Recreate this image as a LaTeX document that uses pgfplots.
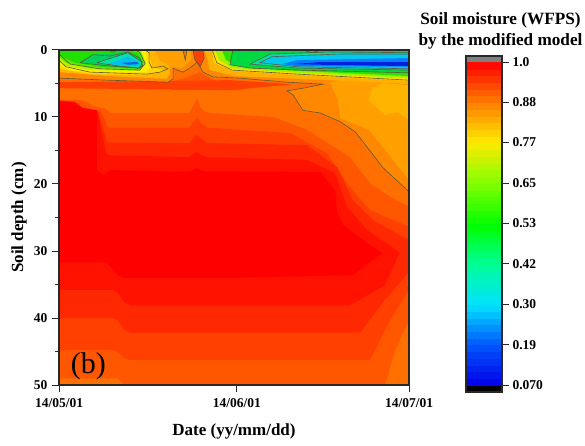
\documentclass[border=0pt]{standalone}
\usepackage{fontspec}
\setmainfont{Liberation Serif}
\usepackage{pgfplots}
\pgfplotsset{compat=1.18}
\newcommand\tf{\fontsize{13.5}{14}\selectfont\bfseries}
\newcommand\lf{\fontsize{17}{18}\selectfont\bfseries}
\newcommand\poly[2]{\addplot[fill=#1,draw=none,forget plot] coordinates {#2} --cycle;}
\newcommand\cntr[1]{\addplot[draw=cont,line width=0.6pt,forget plot] coordinates {#1};}
\definecolor{cont}{RGB}{90,90,60}
\definecolor{frame}{RGB}{40,40,40}
\definecolor{c1}{RGB}{255,0,0}
\definecolor{c2}{RGB}{255,18,0}
\definecolor{c3}{RGB}{255,40,0}
\definecolor{c4}{RGB}{255,64,0}
\definecolor{c5}{RGB}{255,86,0}
\definecolor{c6}{RGB}{255,112,0}
\definecolor{c7}{RGB}{255,136,0}
\definecolor{c8}{RGB}{255,160,0}
\definecolor{c9}{RGB}{255,180,0}
\definecolor{y1}{RGB}{255,216,0}
\definecolor{y2}{RGB}{255,240,0}
\definecolor{g1}{RGB}{192,240,0}
\definecolor{g2}{RGB}{96,232,0}
\definecolor{g3}{RGB}{32,224,0}
\definecolor{g4}{RGB}{0,208,96}
\definecolor{g5}{RGB}{0,224,176}
\definecolor{b1}{RGB}{0,192,240}
\definecolor{b2}{RGB}{0,96,224}
\definecolor{r0}{RGB}{255,176,0}
\definecolor{r1}{RGB}{255,224,0}
\definecolor{r2}{RGB}{160,240,0}
\definecolor{r3}{RGB}{48,224,0}
\definecolor{r4}{RGB}{0,216,64}
\definecolor{r5}{RGB}{0,224,160}
\definecolor{r6}{RGB}{0,200,240}
\definecolor{r7}{RGB}{0,128,255}
\definecolor{r8}{RGB}{0,32,224}
\pgfplotsset{colormap={mod}{rgb255(70pt)=(0,0,230) rgb255(190pt)=(0,90,255) rgb255(300pt)=(0,225,255) rgb255(420pt)=(0,255,150) rgb255(530pt)=(0,255,0) rgb255(650pt)=(128,255,0) rgb255(770pt)=(255,235,0) rgb255(880pt)=(255,128,0) rgb255(1000pt)=(255,0,0)}}
\begin{document}
\begin{tikzpicture}
\path[use as bounding box] (0,0) rectangle (585pt,446pt);
\begin{axis}[
  at={(59pt,61pt)},anchor=south west,scale only axis,width=350pt,height=335pt,
  xmin=0,xmax=61,ymin=0,ymax=50,y dir=reverse,axis on top,
  axis line style={draw=frame,line width=1.1pt},
  tick style={draw=frame,line width=1pt},
  tick align=outside,major tick length=7pt,minor tick length=4pt,
  xtick={0,31,61},xticklabels={14/05/01,14/06/01,14/07/01},xtick pos=bottom,
  ytick={0,10,20,30,40,50},minor y tick num=1,ytick pos=left,
  /pgf/number format/assume math mode=true,
  ticklabel style={font=\tf},
  xticklabel style={yshift=-3pt},
  yticklabel style={xshift=-1pt},
  xlabel={Date (yy/mm/dd)},ylabel={Soil depth (cm)},
  xlabel style={font=\lf,at={(axis description cs:0.5,0)},anchor=center,yshift=-46pt},
  ylabel style={font=\lf,at={(axis description cs:0,0.5)},anchor=center,yshift=40pt},
]
% soil body, drier to wetter
\poly{c9}{(0,0)(61,0)(61,50)(0,50)}
\poly{c8}{(0,0)(57.7,0)(57.7,4.5)(54.6,5.7)(53.9,7.5)(56.8,9.7)(59.1,9.3)(61,10.5)(61,50)(0,50)}
\poly{c7}{(0,0)(47.2,0)(47.2,4.8)(48.6,7.5)(49,10.2)(53.9,11.9)(56.8,14.9)(61,19.4)(61,50)(0,50)}
\poly{c6}{(0,0)(46,0)(46,5.1)(42.5,5.7)(39.7,6.1)(40.8,6.7)(42.5,9)(45.5,9.4)(49,10.7)(51.6,12.2)(53.7,14.5)(56.5,17.6)(60.8,21)(61,21.2)(61,50)(0,50)}
\poly{c5}{(0,7.4)(4,7.5)(6.6,8.5)(8,8.7)(8.9,9.4)(22.7,9.4)(23.4,8.3)(24.1,7.2)(24.6,8.5)(25.4,9.2)(26.3,9.4)(37.3,10)(43.2,11.9)(50.7,16)(54.2,19.9)(57.7,21.9)(61,23.4)(61,40.3)(58.6,44.8)(56.8,50)(11.5,50)(11,49.6)(10.2,49)(0,49)}
\poly{c4}{(0,7.5)(2.8,7.7)(4,8.5)(6.6,8.9)(7.5,9.4)(8.5,11.6)(22.7,11.6)(23.6,10.5)(24.1,10.2)(24.8,11)(26,11.6)(40.3,12.4)(46.7,15.4)(50.7,20.5)(54.2,23.9)(61,26.4)(61,35.8)(57.7,40.3)(54.2,46.3)(12.5,46.3)(11.4,46)(10.3,45.1)(9.5,44.8)(0,44.8)}
\poly{c3}{(0,7.6)(2.8,7.7)(4,8.6)(6.6,9.2)(7.1,10)(8.4,13.8)(22.7,13.9)(23.6,12.9)(24.1,12.7)(24.8,13.3)(26,13.9)(43.2,14.2)(48.5,17.5)(51.2,22.4)(54.7,25.4)(61,28.4)(61,33.1)(56.8,37.3)(52.5,42.2)(12.5,42.2)(11.4,41.8)(10.3,40.4)(9.5,40)(0,40)}
\poly{c2}{(0,7.6)(2.8,7.8)(4,8.6)(6.6,9.1)(6.8,9.3)(8,14.5)(8.4,15.7)(22.7,16)(23.6,15.4)(24.1,15.2)(24.8,15.7)(26,16)(43.2,16.4)(48.1,18.4)(50.2,23.4)(53.7,26.9)(59.4,30.2)(56.8,35.1)(50.7,38.1)(12.5,38.1)(11.4,37.7)(10.2,36.2)(9.3,35.8)(0,35.8)}
\poly{c1}{(0,7.6)(2.8,7.9)(4,8.7)(6.6,9)(6.6,17.9)(7.7,18.7)(8.9,17.9)(22.7,18.2)(24,17.6)(25,18.1)(45.5,18.2)(48.1,20.9)(48.5,24.3)(49.5,26.1)(53.7,28.8)(56.3,30.3)(51.2,33.6)(31.5,34)(11.2,34)(10.2,33.6)(8.6,32)(7.8,31.7)(0,31.7)}
% wet stripe under the surface
\poly{c5}{(19.5,4.7)(22,4.2)(24.5,3.3)(27,4.5)(32,4.9)(32,6)(19.5,6)}
\poly{c4}{(0,4.8)(29.8,4.5)(40.8,5.1)(29.8,6)(0,5.7)}
% dry surface layer
\poly{c7}{(0,4.2)(8.4,4.5)(19,4.8)(19.9,4.3)(19.9,2.7)(20.6,3)(21.6,3.3)(22.8,2.7)(24.1,1.8)(25.1,3.3)(26.8,4)(31.5,4.2)(39.7,4.8)(46,5.1)(49,4.5)(61,5.2)(61,0)(0,0)}
\poly{c8}{(16,0)(19,2.5)(21.5,2.7)(23,1.5)(23,0)}
\poly{c6}{(21.6,0)(22,1.5)(22.3,0)}
\poly{c4}{(23.4,0)(23.4,.3)(23.7,1.5)(24.6,2.5)(25.3,1.2)(25.1,.3)(25.1,0)}
% left dry patch
\poly{c9}{(0,3.3)(8.9,3.9)(18.7,4.3)(19.3,3.7)(19.3,2.5)(17.6,1.5)(16.7,0)(0,0)}
\poly{y1}{(0,2.8)(5.4,3.6)(15,3.7)(18.5,3.1)(16.2,2.5)(15.9,1.2)(15.5,0)(0,0)}
\poly{y2}{(0,2.2)(1.9,3)(7.1,3.4)(15,3.3)(15.9,2.7)(15.3,1.5)(15,0)(0,0)}
\poly{g1}{(0,1.8)(1,2.4)(5.4,3)(14.1,3.1)(15.2,2.1)(14.6,.7)(14.1,0)(0,0)}
\poly{g2}{(0,1)(1.2,1.9)(5.4,2.7)(14.1,3)(15,1.8)(14.3,.3)(13.2,0)(0,0)}
\poly{g3}{(0,0)(0,.7)(.5,1)(2.8,1.9)(7.1,2.5)(14.1,2.8)(14.6,1.8)(13.8,.4)(12,0)}
\poly{g4}{(3.7,1.9)(5.9,.7)(11.5,.3)(14.1,1.2)(14.6,2.4)(13.8,2.7)(8.9,2.4)}
\poly{g5}{(6.6,1.9)(12,.4)(14.5,1.8)(14.1,2.7)(10.6,2.4)}
\poly{b1}{(8.4,2.1)(12,1)(14.1,1.9)(13.6,2.4)}
\poly{b2}{(11,1.9)(13.6,1.8)(14.1,2.1)(11.9,2.2)}
% right dry wedge
\poly{r0}{(25.4,0)(26.3,3)(30.7,3.9)(47.2,4.5)(61,5.1)(61,0)}
\poly{r1}{(26.7,0)(27,1.9)(30.2,3.1)(41.5,3.7)(61,4.6)(61,0)}
\poly{r2}{(27.2,0)(27.9,1.5)(30.2,2.7)(41.5,3.4)(61,4.2)(61,0)}
\poly{r3}{(28.4,0)(29.1,1.5)(31.2,2.4)(41.5,3.1)(61,3.9)(61,0)}
\poly{r4}{(30.3,0)(29.8,2.2)(33.3,2.7)(41.5,3)(61,3.4)(61,0)}
\poly{r5}{(33.3,2.1)(36.8,.6)(47.2,.3)(61,.4)(61,3)(41.5,2.7)}
\poly{r6}{(35,1.9)(37.1,1)(49,.6)(61,.6)(61,2.8)(41.5,2.5)}
\poly{r7}{(38.9,2.1)(41.5,1.5)(61,1.2)(61,2.5)(41.5,2.4)}
\poly{r8}{(40.8,2.1)(45.5,1.8)(61,1.8)(61,2.4)(45.5,2.2)}
% contour lines
\cntr{(0,4.2)(8.4,4.5)(19,4.8)(19.9,4.3)(19.9,2.7)(20.6,3)(21.6,3.3)(22.8,2.7)(24.1,1.8)(25.1,3.3)(26.8,4)(31.5,4.2)(39.7,4.8)(46,5.1)(42.5,5.7)(39.7,6.1)(40.8,6.7)(42.5,9)(45.5,9.4)(49,10.7)(51.6,12.2)(53.7,14.5)(56.5,17.6)(60.8,21)(61,21.2)}
\cntr{(0,1.5)(1.2,2.5)(5.4,3.3)(15.3,3.6)(17.6,3.3)(19,2.8)(18.1,2.4)(16.2,2.7)(15.7,1.8)(15.7,.4)(15,0)}
\cntr{(0,.6)(1.9,2.1)(7.1,2.8)(14.1,3)(15,2)(14,.3)(13.2,0)}
\cntr{(3.7,1.9)(5.9,.7)(8.9,.9)(12,.3)(14.1,1.2)(14.6,2.4)(13.8,2.7)(8.9,2.4)(3.7,1.9)}
\cntr{(6.6,1.9)(12,.4)(14.5,1.8)(14.1,2.7)(10.6,2.4)(6.6,1.9)}
\cntr{(8.5,0)(9.4,.3)(10.3,0)}
\cntr{(23.4,0)(23.4,.3)(23.7,1.5)(24.6,2.5)(25.3,1.2)(25.1,.3)(25.1,0)}
\cntr{(21.6,0)(22,1.5)(22.3,0)}
\cntr{(26.7,0)(27.5,1.9)(30.2,3)(41.5,3.6)(61,4.5)}
\cntr{(30.3,0)(29.8,2.2)(33.3,2.7)(41.5,3)(61,3.4)}
\cntr{(61,.4)(47.2,.3)(36.8,.6)(33.3,2.1)(41.5,2.7)(61,3)}
\cntr{(61,.6)(49,.6)(37.1,1)(35,1.9)(41.5,2.5)(61,2.8)}
\cntr{(42.5,0)(44,.4)(46,0)}
\node[font=\fontsize{30}{32}\selectfont,anchor=center] at (axis cs:5.1,47.2) {(b)};
\end{axis}
% colour scale
\begin{axis}[
  at={(466pt,54pt)},anchor=south west,scale only axis,width=36pt,height=336pt,
  xmin=0,xmax=1,ymin=0.0499,ymax=1.0173,axis on top,
  axis line style={draw=frame,line width=1.1pt},
  tick style={draw=frame,line width=1pt},
  tick align=outside,major tick length=7pt,
  xtick=\empty,ytick pos=right,
  ytick={0.07,0.186,0.303,0.419,0.535,0.651,0.768,0.884,1},
  yticklabels={0.070,0.19,0.30,0.42,0.53,0.65,0.77,0.88,1.0},
  ticklabel style={font=\tf},
  colormap name=mod,point meta min=0.07,point meta max=1,
]
\addplot[fill=black,draw=none] coordinates {(0,0.0499)(1,0.0499)(1,0.07)(0,0.07)} --cycle;
\addplot[fill=gray,draw=none] coordinates {(0,1)(1,1)(1,1.0173)(0,1.0173)} --cycle;
\addplot[surf,shader=flat mean,mesh/cols=2,mesh/ordering=x varies,point meta=y] table[row sep=\\]{
x y\\
0 .07\\ 1 .07\\ 0 .0894\\ 1 .0894\\ 0 .1088\\ 1 .1088\\ 0 .1281\\ 1 .1281\\ 0 .1475\\ 1 .1475\\ 0 .1669\\ 1 .1669\\ 0 .1863\\ 1 .1863\\ 0 .2056\\ 1 .2056\\ 0 .225\\ 1 .225\\ 0 .2444\\ 1 .2444\\ 0 .2638\\ 1 .2638\\ 0 .2831\\ 1 .2831\\ 0 .3025\\ 1 .3025\\ 0 .3219\\ 1 .3219\\ 0 .3413\\ 1 .3413\\ 0 .3606\\ 1 .3606\\ 0 .38\\ 1 .38\\ 0 .3994\\ 1 .3994\\ 0 .4188\\ 1 .4188\\ 0 .4381\\ 1 .4381\\ 0 .4575\\ 1 .4575\\ 0 .4769\\ 1 .4769\\ 0 .4963\\ 1 .4963\\ 0 .5156\\ 1 .5156\\ 0 .535\\ 1 .535\\ 0 .5544\\ 1 .5544\\ 0 .5738\\ 1 .5738\\ 0 .5931\\ 1 .5931\\ 0 .6125\\ 1 .6125\\ 0 .6319\\ 1 .6319\\ 0 .6513\\ 1 .6513\\ 0 .6706\\ 1 .6706\\ 0 .69\\ 1 .69\\ 0 .7094\\ 1 .7094\\ 0 .7288\\ 1 .7288\\ 0 .7481\\ 1 .7481\\ 0 .7675\\ 1 .7675\\ 0 .7869\\ 1 .7869\\ 0 .8063\\ 1 .8063\\ 0 .8256\\ 1 .8256\\ 0 .845\\ 1 .845\\ 0 .8644\\ 1 .8644\\ 0 .8838\\ 1 .8838\\ 0 .9031\\ 1 .9031\\ 0 .9225\\ 1 .9225\\ 0 .9419\\ 1 .9419\\ 0 .9613\\ 1 .9613\\ 0 .9806\\ 1 .9806\\ 0 1\\ 1 1\\
};
\end{axis}
\node[font=\fontsize{17.2}{21}\selectfont\bfseries,align=center,anchor=center] at (500.5pt,415pt) {Soil moisture (WFPS)\\by the modified model};
\end{tikzpicture}
\end{document}
